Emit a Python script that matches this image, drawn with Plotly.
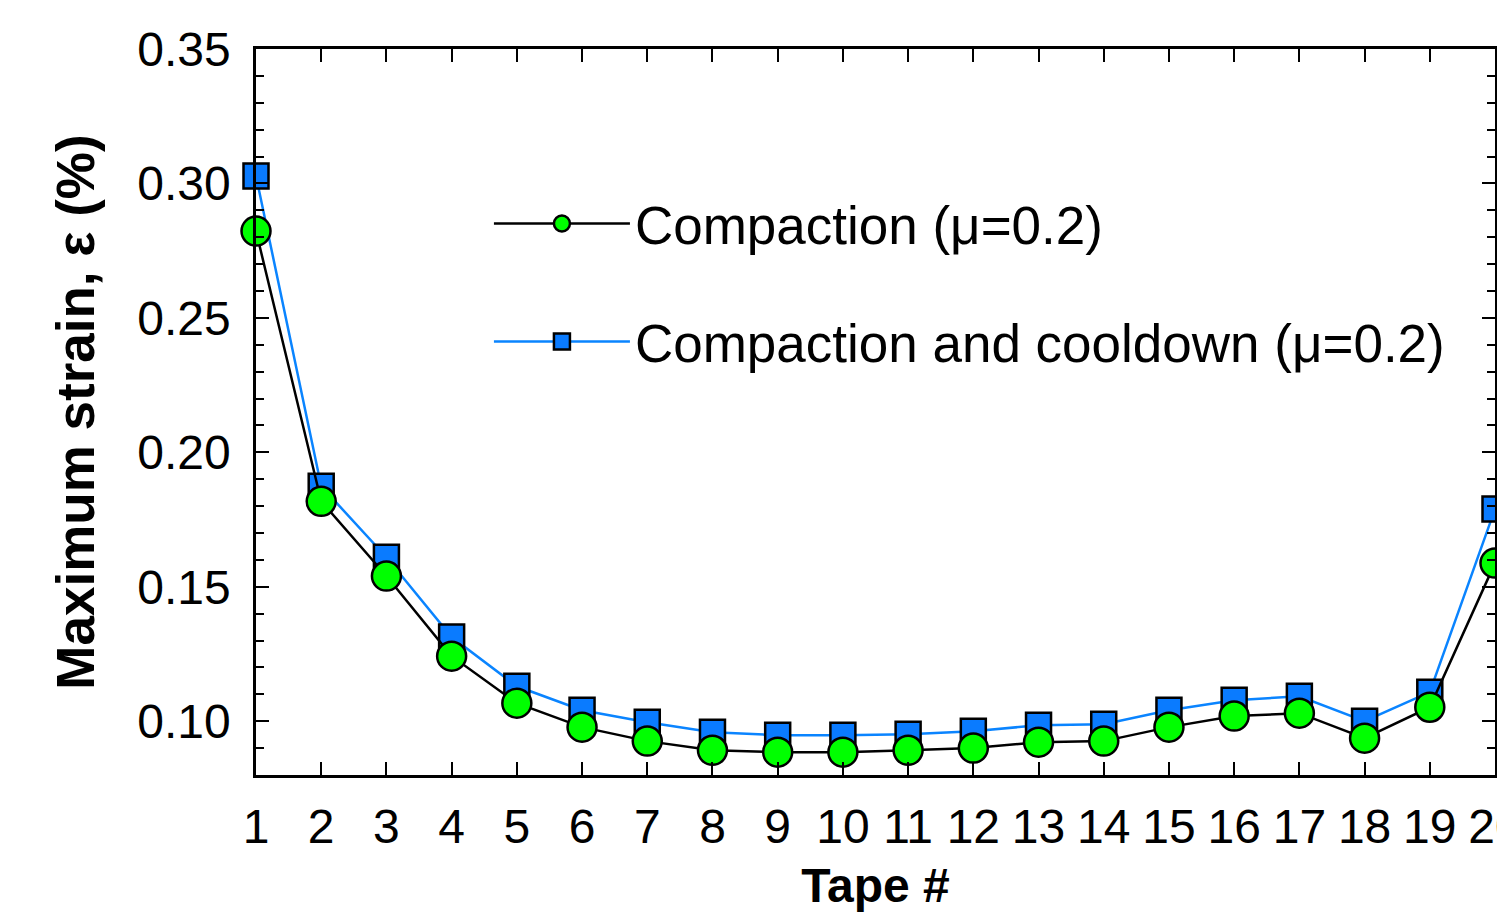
import plotly.graph_objects as go

tape = list(range(1, 21))
compaction = [0.2823, 0.1818, 0.1540, 0.1242, 0.1067, 0.0978, 0.0926, 0.0892, 0.0885, 0.0885,
              0.0892, 0.0900, 0.0922, 0.0926, 0.0978, 0.1019, 0.1030, 0.0937, 0.1052, 0.1588]
cooldown = [0.3028, 0.1874, 0.1610, 0.1313, 0.1130, 0.1041, 0.0996, 0.0959, 0.0948, 0.0948,
            0.0952, 0.0963, 0.0985, 0.0989, 0.1041, 0.1078, 0.1093, 0.1000, 0.1108, 0.1789]
y_ticks = [0.10, 0.15, 0.20, 0.25, 0.30, 0.35]
x_ticks = tape

FONT = "Arial, Liberation Sans, sans-serif"

fig = go.Figure()
fig.add_trace(go.Scatter(
    x=tape, y=cooldown, mode="lines+markers", name="Compaction and cooldown (μ=0.2)",
    line=dict(color="#0A84FF", width=2.5),
    marker=dict(symbol="square", size=25, color="#0A7BFF", line=dict(color="black", width=2.5)),
    cliponaxis=False, legendrank=2, legendgroup="b"))
fig.add_trace(go.Scatter(
    x=tape, y=compaction, mode="lines+markers", name="Compaction (μ=0.2)",
    line=dict(color="black", width=2.5),
    marker=dict(symbol="circle", size=29, color="#00FF00", line=dict(color="black", width=2.5)),
    cliponaxis=False, legendrank=1, legendgroup="a"))

fig.update_layout(
    width=1497, height=912,
    margin=dict(l=256, r=2, t=49, b=137, autoexpand=False),
    paper_bgcolor="white", plot_bgcolor="white",
    font=dict(family=FONT, color="black"),
    showlegend=True,
    legend=dict(x=0.188, y=0.816, xanchor="left", yanchor="top",
                font=dict(size=53, family=FONT), bgcolor="rgba(0,0,0,0)",
                itemwidth=136, tracegroupgap=46, itemsizing="trace"),
    xaxis=dict(range=[1, 20], tickvals=x_ticks, ticks="inside", ticklen=13, tickwidth=2,
               tickcolor="black", showline=True, linewidth=2.5, linecolor="black",
               mirror="ticks", showgrid=False, zeroline=False, ticklabeloverflow="allow",
               tickfont=dict(size=48, family=FONT), ticklabelstandoff=8,
               title=dict(text="Tape #", font=dict(size=48, family=FONT, weight="bold"), standoff=48)),
    yaxis=dict(range=[0.08, 0.35], tickvals=y_ticks, tickformat=".2f", ticks="inside", ticklen=13,
               tickwidth=2, tickcolor="black", showline=True, linewidth=2.5, linecolor="black",
               mirror="ticks", showgrid=False, zeroline=False,
               minor=dict(dtick=0.01, tick0=0.08, ticks="inside", ticklen=8, tickwidth=2,
                          tickcolor="black", showgrid=False),
               tickfont=dict(size=48, family=FONT), ticklabelstandoff=13,
               title=dict(text="Maximum strain, ε (%)", font=dict(size=53, family=FONT, weight="bold"),
                          standoff=26)),
)

fig.write_html("out.html")
